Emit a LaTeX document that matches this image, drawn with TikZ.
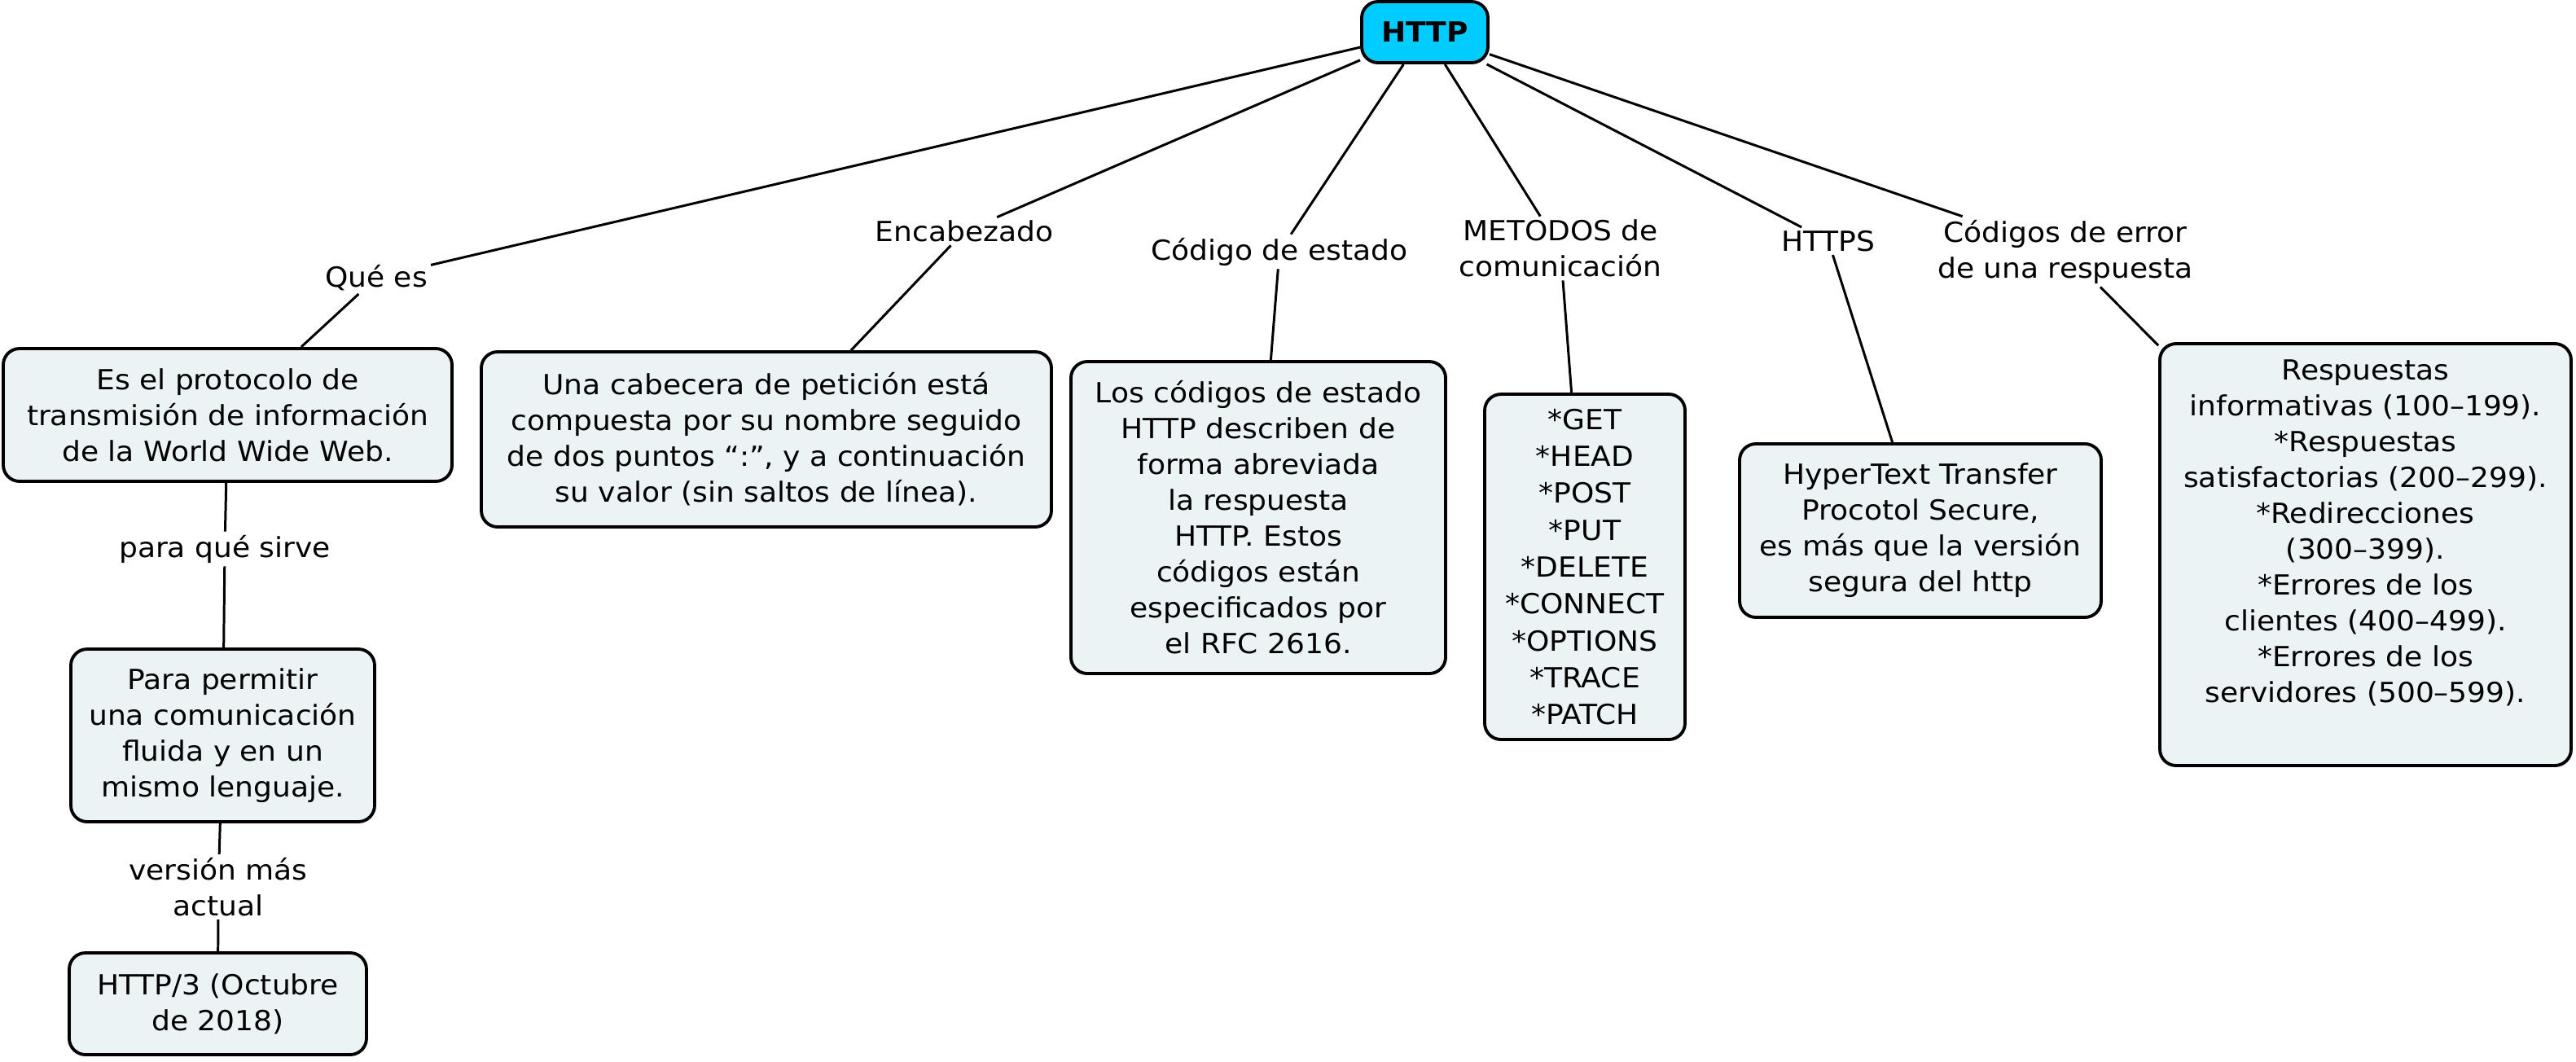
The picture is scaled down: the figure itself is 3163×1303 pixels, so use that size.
\documentclass[tikz,border=0pt]{standalone}
\usepackage{fontspec}
\setmainfont{DejaVu Sans}[FakeStretch=1.06]
\definecolor{boxfill}{RGB}{236,243,245}
\definecolor{httpfill}{RGB}{0,204,255}
\tikzset{
  concept/.style={draw=black, line width=1.1pt, rounded corners=2mm, fill=boxfill,
    align=center, inner sep=0pt, font=\fontsize{9.67pt}{12.52pt}\selectfont},
  linkphrase/.style={align=center, inner sep=1pt, font=\fontsize{9.67pt}{12.52pt}\selectfont},
  conn/.style={line width=0.85pt, draw=black}
}
\begin{document}
\begin{tikzpicture}[x=0.1mm, y=-0.1mm]
\useasboundingbox[fill=white] (0,0) rectangle (3163,1303);
% root
\node[concept, fill=httpfill, minimum width=15.5mm, minimum height=7.5mm, font=\fontsize{9.67pt}{12.52pt}\selectfont\bfseries] (http) at (1749.5,39.5) {HTTP};
% concepts
\node[concept, minimum width=55.1mm, minimum height=16.3mm] (b1) at (279.5,509.5)
  {Es el protocolo de\\transmisión de información\\de la World Wide Web.};
\node[concept, minimum width=70mm, minimum height=21.5mm] (b2) at (941,539.5)
  {Una cabecera de petición está\\compuesta por su nombre seguido\\de dos puntos “:”, y a continuación\\su valor (sin saltos de línea).};
\node[concept, minimum width=46mm, minimum height=38.3mm] (b3) at (1545,635.5)
  {Los códigos de estado\\HTTP describen de\\forma abreviada\\la respuesta\\HTTP. Estos\\códigos están\\especificados por\\el RFC 2616.};
\node[concept, minimum width=24.6mm, minimum height=42.4mm, font=\fontsize{9.67pt}{12.9pt}\selectfont] (b4) at (1946,696)
  {*GET\\*HEAD\\*POST\\*PUT\\*DELETE\\*CONNECT\\*OPTIONS\\*TRACE\\*PATCH};
\node[concept, minimum width=44.4mm, minimum height=21.3mm] (b5) at (2358,651.5)
  {HyperText Transfer\\Procotol Secure,\\es más que la versión\\segura del http};
\node[concept, minimum width=50.5mm, minimum height=51.8mm] (b6) at (2904.5,681)
  {Respuestas\\informativas (100–199).\\*Respuestas\\satisfactorias (200–299).\\*Redirecciones\\(300–399).\\*Errores de los\\clientes (400–499).\\*Errores de los\\servidores (500–599).\\\strut};
\node[concept, minimum width=37.3mm, minimum height=21.2mm] (b7) at (273.5,903)
  {Para permitir\\una comunicación\\fluida y en un\\mismo lenguaje.};
\node[concept, minimum width=36.5mm, minimum height=12.5mm] (b8) at (267.5,1232.5)
  {HTTP/3 (Octubre\\de 2018)};
% linking phrases
\node[linkphrase] (que) at (462,341) {Qué es};
\node[linkphrase] (enc) at (1184,284) {Encabezado};
\node[linkphrase] (cod) at (1571,309) {Código de estado};
\node[linkphrase] (met) at (1916,305) {METODOS de\\comunicación};
\node[linkphrase] (https) at (2245,296) {HTTPS};
\node[linkphrase] (err) at (2536,309) {Códigos de error\\de una respuesta};
\node[linkphrase] (para) at (276,674) {para qué sirve};
\node[linkphrase] (ver) at (268,1089) {versión más\\actual};
% connectors
\draw[conn] (http) -- (que);  \draw[conn] (que) -- (b1);
\draw[conn] (http) -- (enc);  \draw[conn] (enc) -- (b2);
\draw[conn] (http) -- (cod);  \draw[conn] (cod) -- (b3);
\draw[conn] (http) -- (met);  \draw[conn] (met) -- (b4);
\draw[conn] (http) -- (https); \draw[conn] (https) -- (b5);
\draw[conn] (http) -- (err);  \draw[conn] (err) -- (b6);
\draw[conn] (b1) -- (para);   \draw[conn] (para) -- (b7);
\draw[conn] (b7) -- (ver);    \draw[conn] (ver) -- (b8);
\end{tikzpicture}
\end{document}
